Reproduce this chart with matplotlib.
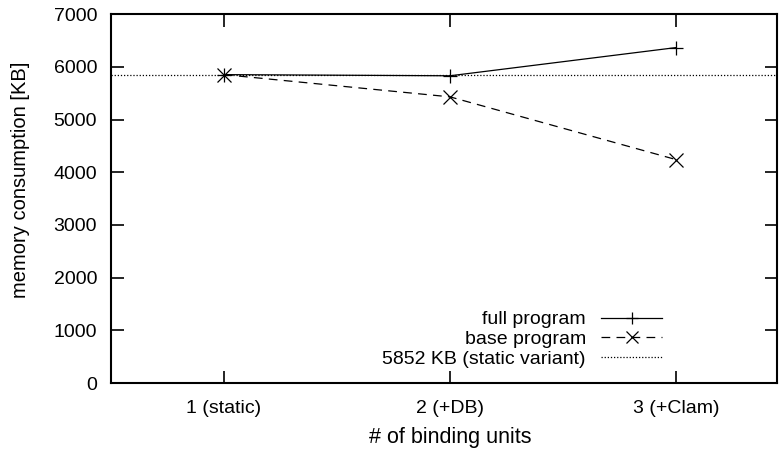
import matplotlib
matplotlib.use("Agg")
import matplotlib.pyplot as plt

plt.rcParams['font.family'] = ['Liberation Sans', 'DejaVu Sans']
plt.rcParams['font.size'] = 14

# binding units
units = [1, 2, 3]
unit_labels = ["1 (static)", "2 (+DB)", "3 (+Clam)"]
full_program = [5852, 5830, 6365]
base_program = [5852, 5430, 4240]
static_kb = 5852

fig = plt.figure(figsize=(7.8, 4.55), dpi=100)
ax = fig.add_axes([0.1423, 0.158, 0.854, 0.811])

ax.plot(units, full_program, color='black', lw=0.9, marker='+', ms=10,
        mew=0.9, label="full program")
ax.plot(units, base_program, color='black', lw=0.9, marker='x', ms=10,
        mew=0.9, dashes=(7, 5), label="base program")
ax.axhline(static_kb, color='black', lw=0.9, ls=(0, (1, 1.5)),
           label="5852 KB (static variant)")

ax.set_xlim(0.5, 3.447)
ax.set_ylim(0, 7000)
ax.set_xticks(units)
ax.set_xticklabels(unit_labels)
ax.set_yticks(range(0, 7001, 1000))
ax.tick_params(direction='in', length=9, width=1.2, top=True, right=True)
ax.tick_params(axis='x', pad=12)
ax.tick_params(axis='y', pad=10)
for s in ax.spines.values():
    s.set_linewidth(1.5)

ax.set_xlabel("# of binding units", fontsize=15.5)
ax.set_ylabel("memory consumption [KB]", fontsize=14.5)
ax.xaxis.set_label_coords(0.509, -0.12)
ax.yaxis.set_label_coords(-0.122, 0.55)

ax.legend(loc='lower right', bbox_to_anchor=(0.85, 0.0), frameon=False,
          markerfirst=False, handlelength=3.1, handletextpad=0.8,
          labelspacing=0.1, borderpad=0.3, markerscale=0.8)

fig.savefig("out.png", dpi=100)
